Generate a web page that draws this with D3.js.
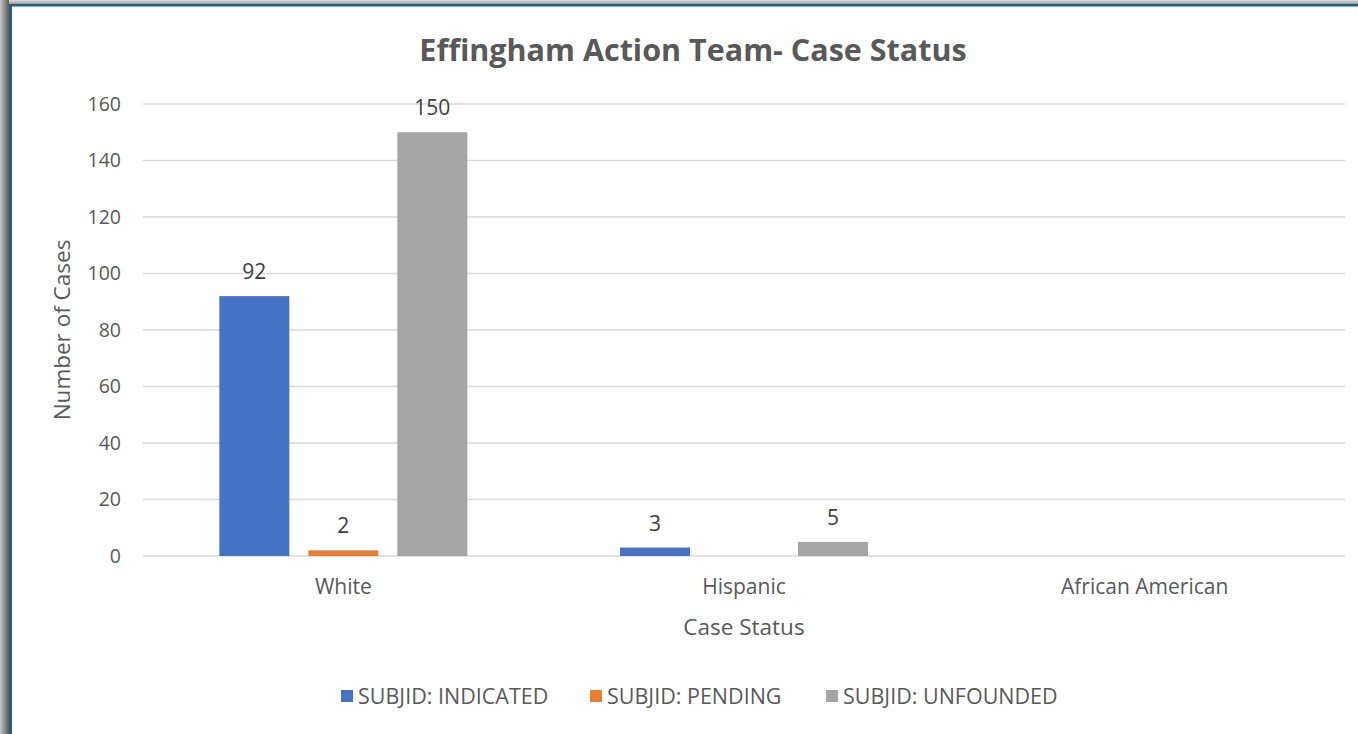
<!DOCTYPE html>
<html>
<head>
<meta charset="utf-8">
<script src="https://cdn.jsdelivr.net/npm/d3@7"></script>
<style>
  html, body { margin: 0; padding: 0; background: #fff; }
  svg { display: block; }
  text { font-family: "Open Sans", "Noto Sans", sans-serif; }
</style>
</head>
<body>
<svg id="chart" width="1358" height="734"></svg>
<script>
const title = "Effingham Action Team- Case Status";
const categories = ["White", "Hispanic", "African American"];
const seriesNames = ["SUBJID: INDICATED", "SUBJID: PENDING", "SUBJID: UNFOUNDED"];
const indicated = [92, 3, 0];
const pending = [2, 0, 0];
const unfounded = [150, 5, 0];
const yTicks = [0, 20, 40, 60, 80, 100, 120, 140, 160];
const xTitle = "Case Status";
const yTitle = "Number of Cases";
const colors = ["#4472C4", "#ED7D31", "#A5A5A5"];

const seriesValues = [indicated, pending, unfounded];
const W = 1358, H = 734;
const svg = d3.select("#chart");

// frame: shadow + blue border on left and top
const defs = svg.append("defs");
const gl = defs.append("linearGradient").attr("id", "shL").attr("x1", "0").attr("x2", "1").attr("y1", "0").attr("y2", "0");
gl.append("stop").attr("offset", "0").attr("stop-color", "#c8c8c8");
gl.append("stop").attr("offset", "1").attr("stop-color", "#5a5a5a");
const gt = defs.append("linearGradient").attr("id", "shT").attr("x1", "0").attr("x2", "0").attr("y1", "0").attr("y2", "1");
gt.append("stop").attr("offset", "0").attr("stop-color", "#e0e0e0");
gt.append("stop").attr("offset", "1").attr("stop-color", "#9a9a9a");
svg.append("rect").attr("x", 0).attr("y", 0).attr("width", W).attr("height", H).attr("fill", "#fff");
svg.append("rect").attr("x", 0).attr("y", 0).attr("width", W).attr("height", 4).attr("fill", "url(#shT)");
svg.append("rect").attr("x", 0).attr("y", 0).attr("width", 9).attr("height", H).attr("fill", "url(#shL)");
svg.append("rect").attr("x", 9).attr("y", 4).attr("width", W - 9).attr("height", 2.5).attr("fill", "#2E5A88");
svg.append("rect").attr("x", 9).attr("y", 4).attr("width", 3).attr("height", H - 4).attr("fill", "#2E5A88");

// scales
const plotL = 143, plotR = 1345, plotT = 104, plotB = 556;
const y = d3.scaleLinear().domain([0, 160]).range([plotB, plotT]);
const x0 = d3.scaleBand().domain(categories).range([plotL, plotR]).padding(0);
const groupW = 267;
const x1 = d3.scaleBand().domain(seriesNames).range([0, groupW]).paddingInner(19 / 89).paddingOuter(19 / 178);

// gridlines
svg.append("g").selectAll("line").data(yTicks).join("line")
  .attr("x1", plotL).attr("x2", plotR)
  .attr("y1", d => y(d)).attr("y2", d => y(d))
  .attr("stroke", "#d9d9d9").attr("stroke-width", 1.5);

// y axis labels
const yAxis = d3.axisLeft(y).tickValues(yTicks).tickSize(0).tickPadding(22);
const gy = svg.append("g").attr("transform", `translate(${plotL},0)`).call(yAxis);
gy.select(".domain").remove();
gy.selectAll("text").attr("font-size", 19.5).attr("fill", "#595959")
  .style("font-family", '"Open Sans", sans-serif');

// x axis labels
const xAxis = d3.axisBottom(x0).tickSize(0).tickPadding(23);
const gx = svg.append("g").attr("transform", `translate(0,${plotB})`).call(xAxis);
gx.select(".domain").remove();
gx.selectAll("text").attr("font-size", 21).attr("fill", "#595959")
  .style("font-family", '"Open Sans", sans-serif');

// bars
const data = [];
categories.forEach((c, i) => seriesNames.forEach((s, j) => data.push({ c, s, j, v: seriesValues[j][i] })));
const gx0 = d => x0(d.c) + x0.bandwidth() / 2 - groupW / 2;
svg.append("g").selectAll("rect").data(data.filter(d => d.v > 0)).join("rect")
  .attr("x", d => gx0(d) + x1(d.s))
  .attr("width", x1.bandwidth())
  .attr("y", d => y(d.v))
  .attr("height", d => y(0) - y(d.v))
  .attr("fill", d => colors[d.j]);

// data labels
svg.append("g").selectAll("text").data(data.filter(d => d.v > 0)).join("text")
  .attr("x", d => gx0(d) + x1(d.s) + x1.bandwidth() / 2)
  .attr("y", d => y(d.v) - 17)
  .attr("text-anchor", "middle")
  .attr("font-size", 21).attr("fill", "#404040")
  .text(d => d.v);

// title
svg.append("text").attr("x", 693).attr("y", 61).attr("text-anchor", "middle")
  .attr("font-size", 30.5).attr("font-weight", "bold").attr("fill", "#595959")
  .text(title);

// axis titles
svg.append("text").attr("x", 744).attr("y", 635).attr("text-anchor", "middle")
  .attr("font-size", 22.5).attr("fill", "#595959").text(xTitle);
svg.append("text").attr("transform", `translate(70,${(plotT + plotB) / 2}) rotate(-90)`)
  .attr("text-anchor", "middle").attr("font-size", 22.5).attr("fill", "#595959").text(yTitle);

// legend
const legendX = [341, 590, 826];
const lg = svg.append("g").selectAll("g").data(seriesNames).join("g")
  .attr("transform", (d, i) => `translate(${legendX[i]},690)`);
lg.append("rect").attr("width", 12).attr("height", 12).attr("fill", (d, i) => colors[i]);
lg.append("text").attr("x", 17).attr("y", 13.5).attr("font-size", 21.5).attr("fill", "#595959").text(d => d);
</script>
</body>
</html>
